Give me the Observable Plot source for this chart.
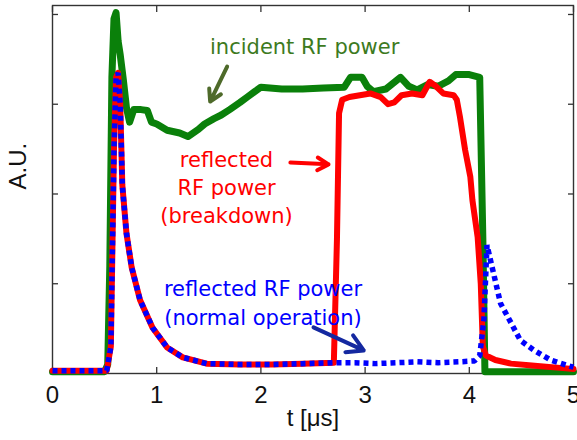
<!DOCTYPE html>
<html><head><meta charset="utf-8">
<script src="https://cdn.jsdelivr.net/npm/d3@7"></script>
<script src="https://cdn.jsdelivr.net/npm/@observablehq/plot@0.6"></script>
<style>body{margin:0;background:#fff}</style>
</head><body><div id="chart"></div>
<script>
// Incident RF power (green)
const incidentT = [0, 0.5, 0.53, 0.55, 0.57, 0.59, 0.61, 0.63, 0.65, 0.68, 0.71, 0.74, 0.78, 0.85, 0.91, 0.95, 1.0, 1.1, 1.22, 1.3, 1.4, 1.46, 1.55, 1.62, 1.7, 1.8, 1.87, 1.94, 2.0, 2.2, 2.4, 2.6, 2.8, 2.86, 2.97, 3.02, 3.08, 3.2, 3.34, 3.42, 3.5, 3.6, 3.7, 3.8, 3.87, 4.0, 4.1, 4.13, 4.15, 4.2, 5.0];
const incidentP = [0.02, 0.02, 0.1, 1.2, 3.3, 3.95, 4.02, 3.7, 3.55, 3.27, 2.96, 2.8, 2.94, 2.94, 2.93, 2.8, 2.78, 2.71, 2.68, 2.64, 2.72, 2.78, 2.84, 2.88, 2.94, 3.02, 3.08, 3.14, 3.19, 3.17, 3.17, 3.18, 3.19, 3.3, 3.3, 3.2, 3.14, 3.17, 3.3, 3.2, 3.16, 3.22, 3.2, 3.26, 3.33, 3.33, 3.3, 1.5, 0.02, 0.02, 0.02];

// Reflected RF power, breakdown (red)
const breakdownT = [0, 0.52, 0.56, 0.59, 0.61, 0.63, 0.65, 0.67, 0.71, 0.76, 0.84, 0.96, 1.1, 1.25, 1.48, 1.8, 2.1, 2.4, 2.7, 2.73, 2.75, 2.78, 2.85, 2.95, 3.05, 3.15, 3.22, 3.28, 3.35, 3.45, 3.55, 3.62, 3.68, 3.75, 3.85, 3.88, 3.91, 3.96, 4.01, 4.03, 4.08, 4.11, 4.13, 4.16, 4.25, 4.4, 4.6, 4.9, 5.0];
const breakdownP = [0.03, 0.03, 0.3, 2.5, 3.3, 3.35, 3.0, 2.1, 1.56, 1.18, 0.82, 0.51, 0.29, 0.18, 0.11, 0.1, 0.1, 0.11, 0.12, 1.5, 2.9, 3.05, 3.08, 3.1, 3.12, 3.08, 3.0, 3.02, 3.1, 3.12, 3.1, 3.25, 3.2, 3.12, 3.1, 3.05, 2.86, 2.49, 2.19, 1.93, 1.52, 1.0, 0.3, 0.2, 0.15, 0.11, 0.09, 0.06, 0.05];

// Reflected RF power, normal operation (blue, dotted)
const normalT = [0, 0.52, 0.56, 0.59, 0.61, 0.63, 0.65, 0.67, 0.71, 0.76, 0.84, 0.96, 1.1, 1.25, 1.48, 1.8, 2.1, 2.4, 2.7, 2.9, 3.1, 3.3, 3.5, 3.7, 3.9, 4.05, 4.1, 4.14, 4.17, 4.22, 4.3, 4.37, 4.49, 4.62, 4.78, 4.94, 5.0];
const normalP = [0.03, 0.03, 0.3, 2.5, 3.3, 3.35, 3.0, 2.1, 1.56, 1.18, 0.82, 0.51, 0.29, 0.18, 0.11, 0.1, 0.1, 0.11, 0.12, 0.12, 0.11, 0.12, 0.13, 0.12, 0.13, 0.14, 0.2, 0.6, 1.43, 1.18, 0.78, 0.63, 0.37, 0.26, 0.15, 0.09, 0.07];

const xTicks = [0, 1, 2, 3, 4, 5];
const yTicks = [0, 1, 2, 3, 4];

const rows = (t, v) => t.map((x, i) => ({t: x, v: v[i]}));
const incident = rows(incidentT, incidentP);
const breakdown = rows(breakdownT, breakdownP);
const normal = rows(normalT, normalP);

const axisColor = "#333";
const noteFont = "DejaVu Sans, Verdana, sans-serif";

const chart = Plot.plot({
  width: 577,
  height: 440,
  marginLeft: 52,
  marginRight: 4,
  marginTop: 5,
  marginBottom: 67,
  x: {domain: [0, 5]},
  y: {domain: [0, 4.1]},
  style: {fontFamily: "Liberation Sans, Arial, sans-serif", background: "white", color: "#111"},
  marks: [
    Plot.frame({stroke: axisColor, strokeWidth: 1.4}),
    Plot.axisX(xTicks, {anchor: "bottom", tickSize: 0, tickPadding: 12, fontSize: 24, label: null}),
    Plot.axisX(xTicks, {anchor: "bottom", tickSize: -6, tickFormat: () => "", label: null, stroke: axisColor, strokeWidth: 1.3}),
    Plot.axisX(xTicks, {anchor: "top", tickSize: -6, tickFormat: () => "", label: null, stroke: axisColor, strokeWidth: 1.3}),
    Plot.axisY(yTicks, {anchor: "left", tickSize: -6, tickFormat: () => "", label: null, stroke: axisColor, strokeWidth: 1.3}),
    Plot.axisY(yTicks, {anchor: "right", tickSize: -6, tickFormat: () => "", label: null, stroke: axisColor, strokeWidth: 1.3}),
    Plot.text(["t [μs]"], {frameAnchor: "bottom", dy: 52, fontSize: 24, fill: "#111"}),
    Plot.text(["A.U."], {frameAnchor: "left", dx: -34, rotate: -90, fontSize: 24, fill: "#111"}),

    Plot.line(incident, {x: "t", y: "v", stroke: "#0a800a", strokeWidth: 7}),
    Plot.line(breakdown, {x: "t", y: "v", stroke: "#ff0000", strokeWidth: 6}),
    Plot.line(normal, {x: "t", y: "v", stroke: "#0000ff", strokeWidth: 5.5, strokeDasharray: "5,4", strokeLinecap: "butt", strokeLinejoin: "miter"}),

    Plot.text(["incident RF power"], {x: 2.42, y: 3.64, fontSize: 21, fontFamily: noteFont, fill: "#3d7a1e"}),
    Plot.arrow([{}], {x1: 1.676, y1: 3.42, x2: 1.513, y2: 3.03, stroke: "#4e6a2a", strokeWidth: 4, headLength: 14}),
    Plot.text(["reflected\nRF power\n(breakdown)"], {x: 1.67, y: 2.09, fontSize: 21, lineHeight: 1.33, fontFamily: noteFont, fill: "#ff0000"}),
    Plot.arrow([{}], {x1: 2.283, y1: 2.35, x2: 2.649, y2: 2.33, stroke: "#ff0000", strokeWidth: 4, headLength: 14}),
    Plot.text(["reflected RF power\n(normal operation)"], {x: 2.02, y: 0.8, fontSize: 21, lineHeight: 1.38, fontFamily: noteFont, fill: "#0000ff"}),
    Plot.arrow([{}], {x1: 2.505, y1: 0.514, x2: 2.987, y2: 0.257, stroke: "#1428a0", strokeWidth: 4, headLength: 14})
  ]
});
document.getElementById("chart").append(chart);
</script>
</body></html>
